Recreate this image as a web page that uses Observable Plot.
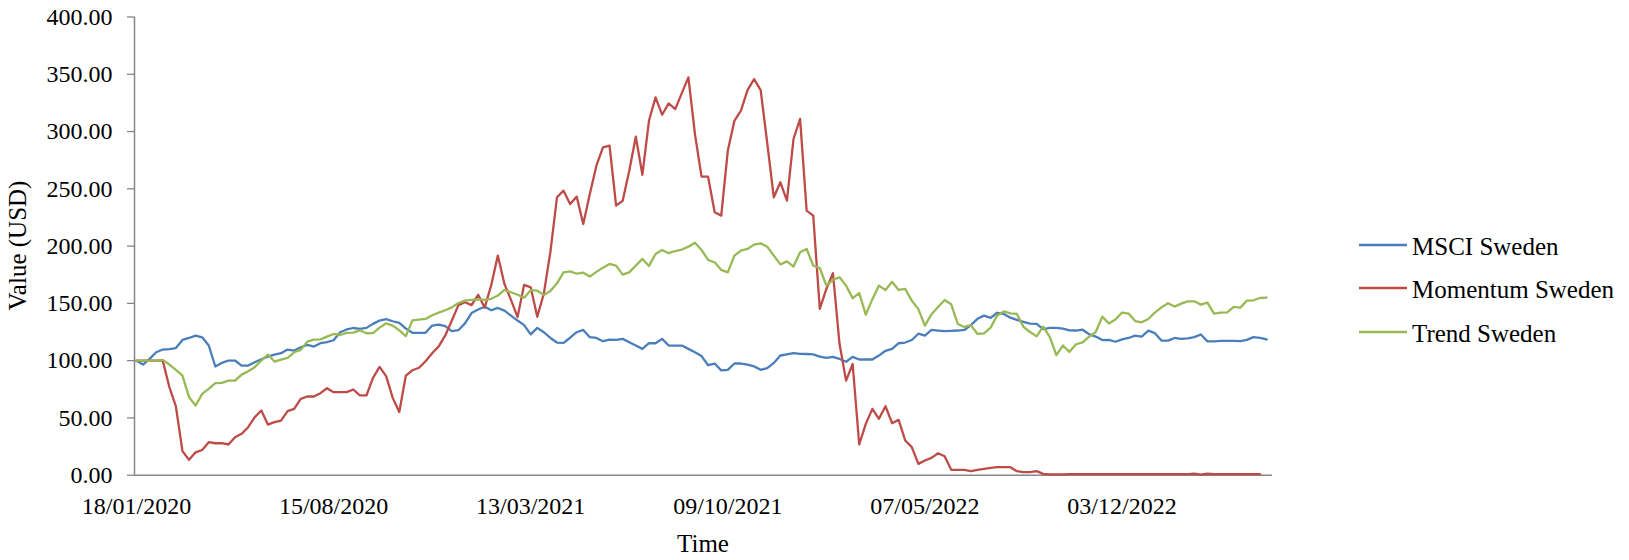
<!DOCTYPE html>
<html>
<head>
<meta charset="utf-8">
<script src="https://cdn.jsdelivr.net/npm/d3@7"></script>
<script src="https://cdn.jsdelivr.net/npm/@observablehq/plot@0.6"></script>
<style>
  html, body { margin: 0; padding: 0; background: #fff; }
  #chart svg { display: block; }
</style>
</head>
<body>
<div id="chart"></div>
<script>
// Weekly index values (USD), first observation on 18/01/2020, one value per week.
const startDate = "18/01/2020";
const tickLabels = ["18/01/2020", "15/08/2020", "13/03/2021", "09/10/2021", "07/05/2022", "03/12/2022"];
const yTicks = [0, 50, 100, 150, 200, 250, 300, 350, 400];

const seriesNames = ["MSCI Sweden", "Momentum Sweden", "Trend Sweden"];
const seriesColors = ["#4A7EBB", "#BE4B48", "#98B954"];

const msciSweden = [
  100, 96.6, 101.5, 107.3, 109.7, 110, 111, 118.1, 119.8, 121.9,
  120.4, 113.2, 94.9, 98.1, 100.1, 100.1, 95.7, 95.7, 98.6, 101.2,
  103.5, 105.3, 106.5, 109.7, 108.8, 111.7, 113.7, 112.3, 115.2, 116.1,
  117.8, 124.8, 127.2, 128.5, 127.7, 128.6, 132.1, 135, 136.2, 134.4,
  133, 128, 124.3, 124.3, 124.3, 130.6, 131.5, 130.2, 125.7, 126.6,
  132.5, 141.5, 144.6, 147.1, 144, 146, 143.7, 139.3, 135, 131,
  123, 128.6, 124.8, 119.8, 115.8, 115.5, 120, 124.8, 126.8, 120.5,
  119.8, 117, 118.4, 118.1, 119, 116.1, 113.2, 110.3, 115.2, 115.2,
  119, 113.2, 113.2, 113.2, 110.3, 107.4, 104, 96, 97.5, 91.5,
  92, 97.5, 97.5, 96.5, 95, 92, 93.5, 98, 104.5, 105.5,
  106.5, 106, 105.8, 105.4, 103.5, 102.4, 103.3, 101.5, 99, 103.3,
  101, 101, 101, 104.4, 108.6, 110.3, 115.2, 115.8, 118, 123.5,
  121.9, 126.8, 126.2, 125.7, 126, 126.3, 126.8, 131, 136.5, 139.3,
  137.3, 141.8, 140.8, 137.5, 135.6, 133.8, 132.3, 132.1, 127.5, 128.6,
  128.6, 128, 126.5, 126.3, 127, 123, 121, 118, 118.1, 116.5,
  118.5, 119.8, 121.9, 121, 126.2, 124, 117.5, 117.5, 119.8, 119,
  119.5, 120.5, 122.8, 116.8, 116.9, 117.3, 117.3, 117.2, 117, 118.1,
  120.5, 119.8, 118.5
];

const momentumSweden = [
  100, 100, 100, 100, 100, 77, 60, 21, 13.4, 20,
  22, 28.8, 27.9, 27.9, 26.8, 33.2, 36.1, 41.9, 50.6, 56.5,
  44.2, 46.3, 47.7, 55.9, 57.9, 66.6, 68.7, 68.7, 71.6, 75.9,
  72.5, 72.5, 72.5, 74.8, 69.6, 69.6, 84.9, 94.5, 86.5, 67.5,
  55.2, 87, 91.6, 93.8, 99.5, 106.5, 112.5, 122, 135, 148.5,
  151, 148.5, 157.5, 146.3, 166, 191.7, 167, 153, 138, 166.2,
  164, 138.3, 158.5, 195, 242.6, 248.4, 236.8, 243.2, 219.3, 245.5,
  270.2, 286.2, 287.7, 235.3, 239.6, 265.8, 295.5, 262.3, 309.4, 329.8,
  314.7, 324.6, 319.6, 333.5, 347.3, 297.8, 260.6, 260.6, 229.5, 226.6,
  283.3, 309.4, 318.2, 336.2, 345.8, 336.2, 290, 242.6, 255.7, 239.6,
  293.5, 311, 231, 226.6, 145.2, 162.6, 176.3, 114.7, 82.6, 97.1,
  26.8, 44.8, 57.9, 49.2, 60.2, 45.4, 48.3, 30.3, 24.5, 9.9,
  12.8, 15.1, 19.2, 16.6, 4.7, 4.7, 4.7, 3.5, 4.7, 5.6,
  6.4, 7, 7, 7, 3.5, 2.6, 2.6, 3.5, 1.2, 0.6,
  0.8, 0.8, 0.9, 0.9, 1, 1, 1, 1, 1, 1,
  1, 1, 1, 1, 1, 1, 1, 1, 1, 1,
  1, 1.4, 0.5, 1.3, 0.9, 1, 1, 1, 1, 1,
  1, 1
];

const trendSweden = [
  100, 100, 100, 100, 100.7, 96.6, 91.9, 87, 68.1, 60.8,
  71, 75.4, 80.3, 80.6, 82.6, 82.6, 87.8, 90.7, 94.3, 100.1,
  105.3, 99.2, 100.9, 102.4, 107.3, 109.4, 116.6, 118.4, 118.6, 121,
  123.3, 122.4, 124.2, 124.5, 126.5, 123.9, 124, 128.8, 132.6, 130.6,
  126.5, 121.5, 135.2, 135.8, 136.4, 139.6, 141.9, 144, 146.5, 150.3,
  152.4, 153, 153.5, 153, 154, 156.8, 161.7, 159.7, 157.5, 155,
  161.5, 161.1, 157.4, 160.8, 167.5, 177.1, 178, 175.9, 176.8, 173.4,
  177.5, 181.2, 184.4, 183, 175.1, 177.1, 183, 188.8, 182.7, 193.1,
  196.6, 193.8, 195.7, 197, 199.5, 203, 196.6, 187.9, 185.9, 179.2,
  177.1, 191.7, 196, 197.5, 201.3, 202.4, 199.5, 191.7, 184, 186.7,
  182.1, 194.6, 197.5, 183, 180.9, 165.5, 170.5, 172.8, 165.5, 154.5,
  159, 140.2, 153.5, 165.5, 161.7, 168.8, 161.7, 162.6, 152.4, 145,
  130.6, 140.5, 146.9, 153, 149.2, 132, 129.4, 131, 123.3, 123.9,
  128.8, 139.5, 143, 141.2, 140.8, 129.5, 125, 121.2, 129.7, 120.7,
  104.8, 113.2, 107.7, 114.3, 116, 121, 125, 138.4, 132.4, 135.9,
  142, 141.1, 134.6, 133.5, 136.4, 142, 146.5, 150.1, 147.2, 149.8,
  151.8, 151.8, 148.9, 150.6, 141.1, 142, 142.1, 147, 146.3, 152.4,
  152.7, 154.7, 155
];

const parseDate = d3.utcParse("%d/%m/%Y");
const formatDate = d3.utcFormat("%d/%m/%Y");
const t0 = parseDate(startDate);
const DAY = 864e5;
const weekDate = (i) => new Date(+t0 + i * 7 * DAY);

function toRows(values, name) {
  return values.map((v, i) => ({date: weekDate(i), value: v, series: name}));
}
const seriesRows = [msciSweden, momentumSweden, trendSweden].map((vals, k) => toRows(vals, seriesNames[k]));
const tickDates = tickLabels.map(parseDate);

// time axis runs from just before the first week to just after the last one
const xDomain = [new Date(+t0 - 0.3 * 7 * DAY), new Date(+t0 + 172.9 * 7 * DAY)];

const W = 1629, H = 560;
const axisGrey = "#868686";
const serif = "'Liberation Serif', 'Times New Roman', serif";

const chart = Plot.plot({
  width: W,
  height: H,
  marginLeft: 134,
  marginRight: 357,
  marginTop: 16.5,
  marginBottom: 85.3,
  style: {fontFamily: serif, fontSize: "24px", color: "#000", background: "#fff", overflow: "visible"},
  x: {type: "utc", domain: xDomain},
  y: {domain: [0, 400]},
  marks: [
    Plot.axisY({ticks: yTicks, tickFormat: (d) => d.toFixed(2), tickSize: 7, tickPadding: 15, label: null, stroke: axisGrey, fill: "#000", strokeWidth: 1.3}),
    Plot.axisX({ticks: tickDates, tickFormat: formatDate, tickSize: 0, tickPadding: 22, label: null, fill: "#000"}),
    Plot.ruleX([xDomain[0]], {stroke: axisGrey, strokeWidth: 1.5}),
    Plot.ruleY([0], {stroke: axisGrey, strokeWidth: 1.5}),
    ...seriesRows.map((rows, k) => Plot.line(rows, {
      x: "date", y: "value", stroke: seriesColors[k], strokeWidth: 2.3, strokeLinejoin: "round", strokeLinecap: "round"
    }))
  ]
});

const svg = d3.select(chart);

// axis titles
svg.append("text")
  .attr("transform", "translate(17,245.5) rotate(-90)")
  .attr("text-anchor", "middle").attr("dominant-baseline", "central")
  .style("font-family", serif).style("font-size", "25px").attr("fill", "#000")
  .text("Value (USD)");
svg.append("text")
  .attr("x", 703).attr("y", 543)
  .attr("text-anchor", "middle").attr("dominant-baseline", "central")
  .style("font-family", serif).style("font-size", "25px").attr("fill", "#000")
  .text("Time");

// legend, to the right of the plot area
const legendY = [245, 288, 332];
const legend = svg.append("g").attr("text-anchor", "start");
seriesNames.forEach((name, k) => {
  legend.append("line")
    .attr("x1", 1359).attr("x2", 1407).attr("y1", legendY[k]).attr("y2", legendY[k])
    .attr("stroke", seriesColors[k]).attr("stroke-width", 2.3);
  legend.append("text")
    .attr("x", 1412).attr("y", legendY[k] + 1)
    .attr("text-anchor", "start")
    .attr("dominant-baseline", "central")
    .style("font-family", serif).style("font-size", "25px").attr("fill", "#000")
    .text(name);
});

document.getElementById("chart").appendChild(chart);
</script>
</body>
</html>
